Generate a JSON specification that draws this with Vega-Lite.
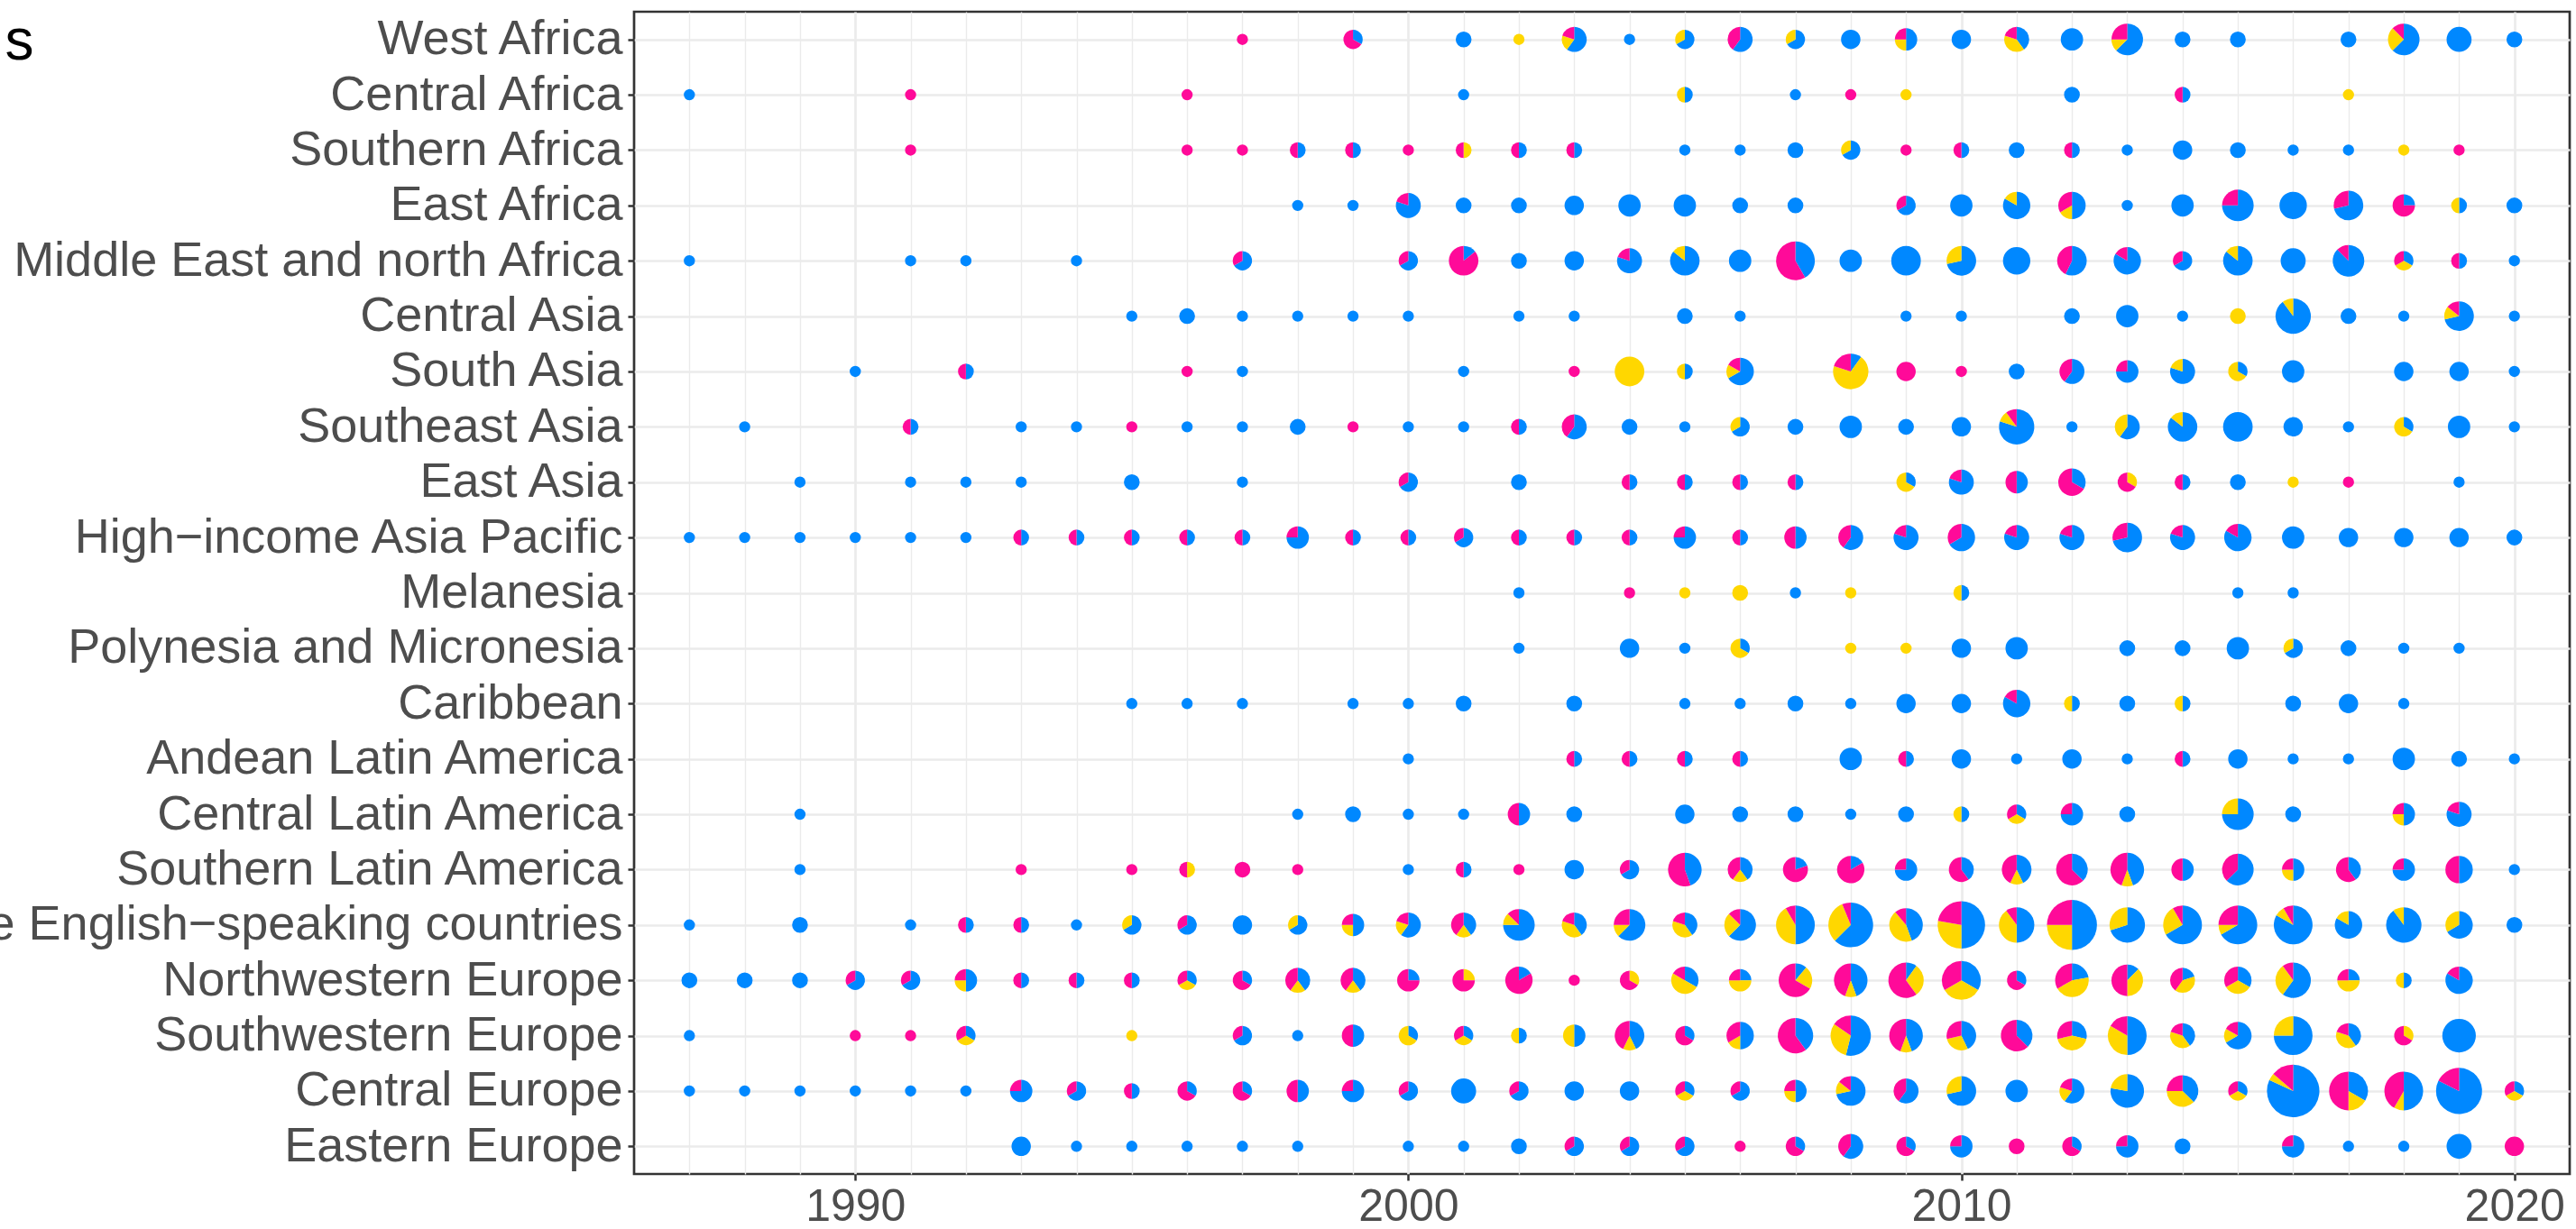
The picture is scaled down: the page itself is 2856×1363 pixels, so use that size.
{
"$schema": "https://vega.github.io/schema/vega-lite/v6.json",
"width": 2146, "height": 1289,
"autosize": {"type": "none"},
"padding": {"left": 703, "top": 13, "right": 7, "bottom": 61},
"background": "white",
"config": {"view": {"stroke": "#333333", "strokeWidth": 2.7}, "font": "Liberation Sans"},
"data": {"values": [
{"r":"West Africa","t":1997,"p":1},{"r":"West Africa","t":1999,"b":1,"p":2},{"r":"West Africa","t":2001,"b":2},{"r":"West Africa","t":2002,"g":1},{"r":"West Africa","t":2003,"b":3,"g":1,"p":1},{"r":"West Africa","t":2004,"b":1},{"r":"West Africa","t":2005,"b":2,"g":1},{"r":"West Africa","t":2006,"b":3,"p":2},{"r":"West Africa","t":2007,"b":2,"g":1},{"r":"West Africa","t":2008,"b":3},{"r":"West Africa","t":2009,"b":2,"g":1,"p":1},{"r":"West Africa","t":2010,"b":3},{"r":"West Africa","t":2011,"b":2,"g":2,"p":1},{"r":"West Africa","t":2012,"b":4},{"r":"West Africa","t":2013,"b":5,"g":1,"p":2},{"r":"West Africa","t":2014,"b":2},{"r":"West Africa","t":2015,"b":2},{"r":"West Africa","t":2017,"b":2},{"r":"West Africa","t":2018,"b":5,"g":2,"p":1},{"r":"West Africa","t":2019,"b":5},{"r":"West Africa","t":2020,"b":2},
{"r":"Central Africa","t":1987,"b":1},{"r":"Central Africa","t":1991,"p":1},{"r":"Central Africa","t":1996,"p":1},{"r":"Central Africa","t":2001,"b":1},{"r":"Central Africa","t":2005,"b":1,"g":1},{"r":"Central Africa","t":2007,"b":1},{"r":"Central Africa","t":2008,"p":1},{"r":"Central Africa","t":2009,"g":1},{"r":"Central Africa","t":2012,"b":2},{"r":"Central Africa","t":2014,"b":1,"p":1},{"r":"Central Africa","t":2017,"g":1},
{"r":"Southern Africa","t":1991,"p":1},{"r":"Southern Africa","t":1996,"p":1},{"r":"Southern Africa","t":1997,"p":1},{"r":"Southern Africa","t":1998,"b":1,"p":1},{"r":"Southern Africa","t":1999,"b":1,"p":1},{"r":"Southern Africa","t":2000,"p":1},{"r":"Southern Africa","t":2001,"g":1,"p":1},{"r":"Southern Africa","t":2002,"b":1,"p":1},{"r":"Southern Africa","t":2003,"b":1,"p":1},{"r":"Southern Africa","t":2005,"b":1},{"r":"Southern Africa","t":2006,"b":1},{"r":"Southern Africa","t":2007,"b":2},{"r":"Southern Africa","t":2008,"b":2,"g":1},{"r":"Southern Africa","t":2009,"p":1},{"r":"Southern Africa","t":2010,"b":1,"p":1},{"r":"Southern Africa","t":2011,"b":2},{"r":"Southern Africa","t":2012,"b":1,"p":1},{"r":"Southern Africa","t":2013,"b":1},{"r":"Southern Africa","t":2014,"b":3},{"r":"Southern Africa","t":2015,"b":2},{"r":"Southern Africa","t":2016,"b":1},{"r":"Southern Africa","t":2017,"b":1},{"r":"Southern Africa","t":2018,"g":1},{"r":"Southern Africa","t":2019,"p":1},
{"r":"East Africa","t":1998,"b":1},{"r":"East Africa","t":1999,"b":1},{"r":"East Africa","t":2000,"b":4,"p":1},{"r":"East Africa","t":2001,"b":2},{"r":"East Africa","t":2002,"b":2},{"r":"East Africa","t":2003,"b":3},{"r":"East Africa","t":2004,"b":4},{"r":"East Africa","t":2005,"b":4},{"r":"East Africa","t":2006,"b":2},{"r":"East Africa","t":2007,"b":2},{"r":"East Africa","t":2009,"b":2,"p":1},{"r":"East Africa","t":2010,"b":4},{"r":"East Africa","t":2011,"b":5,"g":1},{"r":"East Africa","t":2012,"b":3,"g":1,"p":2},{"r":"East Africa","t":2013,"b":1},{"r":"East Africa","t":2014,"b":4},{"r":"East Africa","t":2015,"b":6,"p":2},{"r":"East Africa","t":2016,"b":6},{"r":"East Africa","t":2017,"b":5,"p":2},{"r":"East Africa","t":2018,"b":1,"p":3},{"r":"East Africa","t":2019,"b":1,"g":1},{"r":"East Africa","t":2020,"b":2},
{"r":"Middle East and north Africa","t":1987,"b":1},{"r":"Middle East and north Africa","t":1991,"b":1},{"r":"Middle East and north Africa","t":1992,"b":1},{"r":"Middle East and north Africa","t":1994,"b":1},{"r":"Middle East and north Africa","t":1997,"b":2,"p":1},{"r":"Middle East and north Africa","t":2000,"b":2,"p":1},{"r":"Middle East and north Africa","t":2001,"b":1,"p":6},{"r":"Middle East and north Africa","t":2002,"b":2},{"r":"Middle East and north Africa","t":2003,"b":3},{"r":"Middle East and north Africa","t":2004,"b":4,"p":1},{"r":"Middle East and north Africa","t":2005,"b":6,"g":1},{"r":"Middle East and north Africa","t":2006,"b":4},{"r":"Middle East and north Africa","t":2007,"b":5,"p":7},{"r":"Middle East and north Africa","t":2008,"b":4},{"r":"Middle East and north Africa","t":2009,"b":7},{"r":"Middle East and north Africa","t":2010,"b":5,"g":2},{"r":"Middle East and north Africa","t":2011,"b":6},{"r":"Middle East and north Africa","t":2012,"b":4,"p":3},{"r":"Middle East and north Africa","t":2013,"b":5,"p":1},{"r":"Middle East and north Africa","t":2014,"b":2,"p":1},{"r":"Middle East and north Africa","t":2015,"b":6,"g":1},{"r":"Middle East and north Africa","t":2016,"b":5},{"r":"Middle East and north Africa","t":2017,"b":7,"p":1},{"r":"Middle East and north Africa","t":2018,"b":1,"g":1,"p":1},{"r":"Middle East and north Africa","t":2019,"b":1,"p":1},{"r":"Middle East and north Africa","t":2020,"b":1},
{"r":"Central Asia","t":1995,"b":1},{"r":"Central Asia","t":1996,"b":2},{"r":"Central Asia","t":1997,"b":1},{"r":"Central Asia","t":1998,"b":1},{"r":"Central Asia","t":1999,"b":1},{"r":"Central Asia","t":2000,"b":1},{"r":"Central Asia","t":2002,"b":1},{"r":"Central Asia","t":2003,"b":1},{"r":"Central Asia","t":2005,"b":2},{"r":"Central Asia","t":2006,"b":1},{"r":"Central Asia","t":2009,"b":1},{"r":"Central Asia","t":2010,"b":1},{"r":"Central Asia","t":2012,"b":2},{"r":"Central Asia","t":2013,"b":4},{"r":"Central Asia","t":2014,"b":1},{"r":"Central Asia","t":2015,"g":2},{"r":"Central Asia","t":2016,"b":9,"g":1},{"r":"Central Asia","t":2017,"b":2},{"r":"Central Asia","t":2018,"b":1},{"r":"Central Asia","t":2019,"b":5,"g":1,"p":1},{"r":"Central Asia","t":2020,"b":1},
{"r":"South Asia","t":1990,"b":1},{"r":"South Asia","t":1992,"b":1,"p":1},{"r":"South Asia","t":1996,"p":1},{"r":"South Asia","t":1997,"b":1},{"r":"South Asia","t":2001,"b":1},{"r":"South Asia","t":2003,"p":1},{"r":"South Asia","t":2004,"g":7},{"r":"South Asia","t":2005,"b":1,"g":1},{"r":"South Asia","t":2006,"b":4,"g":1,"p":1},{"r":"South Asia","t":2008,"b":1,"g":7,"p":2},{"r":"South Asia","t":2009,"p":3},{"r":"South Asia","t":2010,"p":1},{"r":"South Asia","t":2011,"b":2},{"r":"South Asia","t":2012,"b":3,"p":2},{"r":"South Asia","t":2013,"b":3,"p":1},{"r":"South Asia","t":2014,"b":4,"g":1},{"r":"South Asia","t":2015,"b":1,"g":2},{"r":"South Asia","t":2016,"b":4},{"r":"South Asia","t":2018,"b":3},{"r":"South Asia","t":2019,"b":3},{"r":"South Asia","t":2020,"b":1},
{"r":"Southeast Asia","t":1988,"b":1},{"r":"Southeast Asia","t":1991,"b":1,"p":1},{"r":"Southeast Asia","t":1993,"b":1},{"r":"Southeast Asia","t":1994,"b":1},{"r":"Southeast Asia","t":1995,"p":1},{"r":"Southeast Asia","t":1996,"b":1},{"r":"Southeast Asia","t":1997,"b":1},{"r":"Southeast Asia","t":1998,"b":2},{"r":"Southeast Asia","t":1999,"p":1},{"r":"Southeast Asia","t":2000,"b":1},{"r":"Southeast Asia","t":2001,"b":1},{"r":"Southeast Asia","t":2002,"b":1,"p":1},{"r":"Southeast Asia","t":2003,"b":3,"p":2},{"r":"Southeast Asia","t":2004,"b":2},{"r":"Southeast Asia","t":2005,"b":1},{"r":"Southeast Asia","t":2006,"b":2,"g":1},{"r":"Southeast Asia","t":2007,"b":2},{"r":"Southeast Asia","t":2008,"b":4},{"r":"Southeast Asia","t":2009,"b":2},{"r":"Southeast Asia","t":2010,"b":3},{"r":"Southeast Asia","t":2011,"b":8,"g":1,"p":1},{"r":"Southeast Asia","t":2012,"b":1},{"r":"Southeast Asia","t":2013,"b":3,"g":2},{"r":"Southeast Asia","t":2014,"b":6,"g":1},{"r":"Southeast Asia","t":2015,"b":7},{"r":"Southeast Asia","t":2016,"b":3},{"r":"Southeast Asia","t":2017,"b":1},{"r":"Southeast Asia","t":2018,"b":1,"g":2},{"r":"Southeast Asia","t":2019,"b":4},{"r":"Southeast Asia","t":2020,"b":1},
{"r":"East Asia","t":1989,"b":1},{"r":"East Asia","t":1991,"b":1},{"r":"East Asia","t":1992,"b":1},{"r":"East Asia","t":1993,"b":1},{"r":"East Asia","t":1995,"b":2},{"r":"East Asia","t":1997,"b":1},{"r":"East Asia","t":2000,"b":2,"p":1},{"r":"East Asia","t":2002,"b":2},{"r":"East Asia","t":2004,"b":1,"p":1},{"r":"East Asia","t":2005,"b":1,"p":1},{"r":"East Asia","t":2006,"b":1,"p":1},{"r":"East Asia","t":2007,"b":1,"p":1},{"r":"East Asia","t":2009,"b":1,"g":2},{"r":"East Asia","t":2010,"b":4,"p":1},{"r":"East Asia","t":2011,"b":2,"p":2},{"r":"East Asia","t":2012,"b":2,"p":4},{"r":"East Asia","t":2013,"g":1,"p":2},{"r":"East Asia","t":2014,"b":1,"p":1},{"r":"East Asia","t":2015,"b":2},{"r":"East Asia","t":2016,"g":1},{"r":"East Asia","t":2017,"p":1},{"r":"East Asia","t":2019,"b":1},
{"r":"High−income Asia Pacific","t":1987,"b":1},{"r":"High−income Asia Pacific","t":1988,"b":1},{"r":"High−income Asia Pacific","t":1989,"b":1},{"r":"High−income Asia Pacific","t":1990,"b":1},{"r":"High−income Asia Pacific","t":1991,"b":1},{"r":"High−income Asia Pacific","t":1992,"b":1},{"r":"High−income Asia Pacific","t":1993,"b":1,"p":1},{"r":"High−income Asia Pacific","t":1994,"b":1,"p":1},{"r":"High−income Asia Pacific","t":1995,"b":1,"p":1},{"r":"High−income Asia Pacific","t":1996,"b":1,"p":1},{"r":"High−income Asia Pacific","t":1997,"b":1,"p":1},{"r":"High−income Asia Pacific","t":1998,"b":3,"p":1},{"r":"High−income Asia Pacific","t":1999,"b":1,"p":1},{"r":"High−income Asia Pacific","t":2000,"b":1,"p":1},{"r":"High−income Asia Pacific","t":2001,"b":2,"p":1},{"r":"High−income Asia Pacific","t":2002,"b":1,"p":1},{"r":"High−income Asia Pacific","t":2003,"b":1,"p":1},{"r":"High−income Asia Pacific","t":2004,"b":1,"p":1},{"r":"High−income Asia Pacific","t":2005,"b":3,"p":1},{"r":"High−income Asia Pacific","t":2006,"b":1,"p":1},{"r":"High−income Asia Pacific","t":2007,"b":2,"p":2},{"r":"High−income Asia Pacific","t":2008,"b":3,"p":2},{"r":"High−income Asia Pacific","t":2009,"b":4,"p":1},{"r":"High−income Asia Pacific","t":2010,"b":4,"p":2},{"r":"High−income Asia Pacific","t":2011,"b":4,"p":1},{"r":"High−income Asia Pacific","t":2012,"b":4,"p":1},{"r":"High−income Asia Pacific","t":2013,"b":5,"p":2},{"r":"High−income Asia Pacific","t":2014,"b":4,"p":1},{"r":"High−income Asia Pacific","t":2015,"b":5,"p":1},{"r":"High−income Asia Pacific","t":2016,"b":4},{"r":"High−income Asia Pacific","t":2017,"b":3},{"r":"High−income Asia Pacific","t":2018,"b":3},{"r":"High−income Asia Pacific","t":2019,"b":3},{"r":"High−income Asia Pacific","t":2020,"b":2},
{"r":"Melanesia","t":2002,"b":1},{"r":"Melanesia","t":2004,"p":1},{"r":"Melanesia","t":2005,"g":1},{"r":"Melanesia","t":2006,"g":2},{"r":"Melanesia","t":2007,"b":1},{"r":"Melanesia","t":2008,"g":1},{"r":"Melanesia","t":2010,"b":1,"g":1},{"r":"Melanesia","t":2015,"b":1},{"r":"Melanesia","t":2016,"b":1},
{"r":"Polynesia and Micronesia","t":2002,"b":1},{"r":"Polynesia and Micronesia","t":2004,"b":3},{"r":"Polynesia and Micronesia","t":2005,"b":1},{"r":"Polynesia and Micronesia","t":2006,"b":1,"g":2},{"r":"Polynesia and Micronesia","t":2008,"g":1},{"r":"Polynesia and Micronesia","t":2009,"g":1},{"r":"Polynesia and Micronesia","t":2010,"b":3},{"r":"Polynesia and Micronesia","t":2011,"b":4},{"r":"Polynesia and Micronesia","t":2013,"b":2},{"r":"Polynesia and Micronesia","t":2014,"b":2},{"r":"Polynesia and Micronesia","t":2015,"b":4},{"r":"Polynesia and Micronesia","t":2016,"b":2,"g":1},{"r":"Polynesia and Micronesia","t":2017,"b":2},{"r":"Polynesia and Micronesia","t":2018,"b":1},{"r":"Polynesia and Micronesia","t":2019,"b":1},
{"r":"Caribbean","t":1995,"b":1},{"r":"Caribbean","t":1996,"b":1},{"r":"Caribbean","t":1997,"b":1},{"r":"Caribbean","t":1999,"b":1},{"r":"Caribbean","t":2000,"b":1},{"r":"Caribbean","t":2001,"b":2},{"r":"Caribbean","t":2003,"b":2},{"r":"Caribbean","t":2005,"b":1},{"r":"Caribbean","t":2006,"b":1},{"r":"Caribbean","t":2007,"b":2},{"r":"Caribbean","t":2008,"b":1},{"r":"Caribbean","t":2009,"b":3},{"r":"Caribbean","t":2010,"b":3},{"r":"Caribbean","t":2011,"b":5,"p":1},{"r":"Caribbean","t":2012,"b":1,"g":1},{"r":"Caribbean","t":2013,"b":2},{"r":"Caribbean","t":2014,"b":1,"g":1},{"r":"Caribbean","t":2016,"b":2},{"r":"Caribbean","t":2017,"b":3},{"r":"Caribbean","t":2018,"b":1},
{"r":"Andean Latin America","t":2000,"b":1},{"r":"Andean Latin America","t":2003,"b":1,"p":1},{"r":"Andean Latin America","t":2004,"b":1,"p":1},{"r":"Andean Latin America","t":2005,"b":1,"p":1},{"r":"Andean Latin America","t":2006,"b":1,"p":1},{"r":"Andean Latin America","t":2008,"b":4},{"r":"Andean Latin America","t":2009,"b":1,"p":1},{"r":"Andean Latin America","t":2010,"b":3},{"r":"Andean Latin America","t":2011,"b":1},{"r":"Andean Latin America","t":2012,"b":3},{"r":"Andean Latin America","t":2013,"b":1},{"r":"Andean Latin America","t":2014,"b":1,"p":1},{"r":"Andean Latin America","t":2015,"b":3},{"r":"Andean Latin America","t":2016,"b":1},{"r":"Andean Latin America","t":2017,"b":1},{"r":"Andean Latin America","t":2018,"b":4},{"r":"Andean Latin America","t":2019,"b":2},{"r":"Andean Latin America","t":2020,"b":1},
{"r":"Central Latin America","t":1989,"b":1},{"r":"Central Latin America","t":1998,"b":1},{"r":"Central Latin America","t":1999,"b":2},{"r":"Central Latin America","t":2000,"b":1},{"r":"Central Latin America","t":2001,"b":1},{"r":"Central Latin America","t":2002,"b":2,"p":2},{"r":"Central Latin America","t":2003,"b":2},{"r":"Central Latin America","t":2005,"b":3},{"r":"Central Latin America","t":2006,"b":2},{"r":"Central Latin America","t":2007,"b":2},{"r":"Central Latin America","t":2008,"b":1},{"r":"Central Latin America","t":2009,"b":2},{"r":"Central Latin America","t":2010,"b":1,"g":1},{"r":"Central Latin America","t":2011,"b":1,"g":1,"p":1},{"r":"Central Latin America","t":2012,"b":3,"p":1},{"r":"Central Latin America","t":2013,"b":2},{"r":"Central Latin America","t":2015,"b":6,"g":2},{"r":"Central Latin America","t":2016,"b":2},{"r":"Central Latin America","t":2018,"b":2,"g":1,"p":1},{"r":"Central Latin America","t":2019,"b":4,"p":1},
{"r":"Southern Latin America","t":1989,"b":1},{"r":"Southern Latin America","t":1993,"p":1},{"r":"Southern Latin America","t":1995,"p":1},{"r":"Southern Latin America","t":1996,"g":1,"p":1},{"r":"Southern Latin America","t":1997,"p":2},{"r":"Southern Latin America","t":1998,"p":1},{"r":"Southern Latin America","t":2000,"b":1},{"r":"Southern Latin America","t":2001,"b":1,"p":1},{"r":"Southern Latin America","t":2002,"p":1},{"r":"Southern Latin America","t":2003,"b":3},{"r":"Southern Latin America","t":2004,"b":2,"p":1},{"r":"Southern Latin America","t":2005,"b":4,"p":5},{"r":"Southern Latin America","t":2006,"b":2,"g":1,"p":2},{"r":"Southern Latin America","t":2007,"b":1,"p":4},{"r":"Southern Latin America","t":2008,"b":1,"p":5},{"r":"Southern Latin America","t":2009,"b":3,"p":1},{"r":"Southern Latin America","t":2010,"b":2,"p":3},{"r":"Southern Latin America","t":2011,"b":3,"g":1,"p":3},{"r":"Southern Latin America","t":2012,"b":3,"p":5},{"r":"Southern Latin America","t":2013,"b":4,"g":1,"p":4},{"r":"Southern Latin America","t":2014,"b":2,"p":2},{"r":"Southern Latin America","t":2015,"b":5,"p":3},{"r":"Southern Latin America","t":2016,"b":2,"g":1,"p":1},{"r":"Southern Latin America","t":2017,"b":2,"p":3},{"r":"Southern Latin America","t":2018,"b":3,"p":1},{"r":"Southern Latin America","t":2019,"b":3,"p":3},{"r":"Southern Latin America","t":2020,"b":1},
{"r":"High−income English−speaking countries","t":1987,"b":1},{"r":"High−income English−speaking countries","t":1989,"b":2},{"r":"High−income English−speaking countries","t":1991,"b":1},{"r":"High−income English−speaking countries","t":1992,"b":1,"p":1},{"r":"High−income English−speaking countries","t":1993,"b":1,"p":1},{"r":"High−income English−speaking countries","t":1994,"b":1},{"r":"High−income English−speaking countries","t":1995,"b":2,"g":1},{"r":"High−income English−speaking countries","t":1996,"b":2,"p":1},{"r":"High−income English−speaking countries","t":1997,"b":3},{"r":"High−income English−speaking countries","t":1998,"b":2,"g":1},{"r":"High−income English−speaking countries","t":1999,"b":2,"g":1,"p":1},{"r":"High−income English−speaking countries","t":2000,"b":3,"g":1,"p":1},{"r":"High−income English−speaking countries","t":2001,"b":2,"g":1,"p":2},{"r":"High−income English−speaking countries","t":2002,"b":6,"g":1,"p":1},{"r":"High−income English−speaking countries","t":2003,"b":2,"g":2,"p":1},{"r":"High−income English−speaking countries","t":2004,"b":5,"g":1,"p":2},{"r":"High−income English−speaking countries","t":2005,"b":2,"g":2,"p":1},{"r":"High−income English−speaking countries","t":2006,"b":5,"g":2,"p":1},{"r":"High−income English−speaking countries","t":2007,"b":6,"g":5,"p":1},{"r":"High−income English−speaking countries","t":2008,"b":10,"g":5,"p":1},{"r":"High−income English−speaking countries","t":2009,"b":4,"g":4,"p":1},{"r":"High−income English−speaking countries","t":2010,"b":9,"g":5,"p":4},{"r":"High−income English−speaking countries","t":2011,"b":5,"g":4,"p":1},{"r":"High−income English−speaking countries","t":2012,"b":10,"g":5,"p":5},{"r":"High−income English−speaking countries","t":2013,"b":7,"g":3},{"r":"High−income English−speaking countries","t":2014,"b":8,"g":3,"p":1},{"r":"High−income English−speaking countries","t":2015,"b":8,"g":1,"p":3},{"r":"High−income English−speaking countries","t":2016,"b":10,"g":1,"p":1},{"r":"High−income English−speaking countries","t":2017,"b":5,"g":1},{"r":"High−income English−speaking countries","t":2018,"b":9,"g":1},{"r":"High−income English−speaking countries","t":2019,"b":4,"g":2},{"r":"High−income English−speaking countries","t":2020,"b":2},
{"r":"Northwestern Europe","t":1987,"b":2},{"r":"Northwestern Europe","t":1988,"b":2},{"r":"Northwestern Europe","t":1989,"b":2},{"r":"Northwestern Europe","t":1990,"b":2,"p":1},{"r":"Northwestern Europe","t":1991,"b":2,"p":1},{"r":"Northwestern Europe","t":1992,"b":2,"g":1,"p":1},{"r":"Northwestern Europe","t":1993,"b":1,"p":1},{"r":"Northwestern Europe","t":1994,"b":1,"p":1},{"r":"Northwestern Europe","t":1995,"b":1,"p":1},{"r":"Northwestern Europe","t":1996,"b":1,"g":1,"p":1},{"r":"Northwestern Europe","t":1997,"b":1,"p":2},{"r":"Northwestern Europe","t":1998,"b":2,"g":1,"p":2},{"r":"Northwestern Europe","t":1999,"b":2,"g":1,"p":2},{"r":"Northwestern Europe","t":2000,"b":1,"p":3},{"r":"Northwestern Europe","t":2001,"g":1,"p":3},{"r":"Northwestern Europe","t":2002,"b":1,"p":5},{"r":"Northwestern Europe","t":2003,"p":1},{"r":"Northwestern Europe","t":2004,"g":1,"p":2},{"r":"Northwestern Europe","t":2005,"b":2,"g":3,"p":1},{"r":"Northwestern Europe","t":2006,"b":1,"g":2,"p":1},{"r":"Northwestern Europe","t":2007,"b":1,"g":2,"p":6},{"r":"Northwestern Europe","t":2008,"b":4,"g":1,"p":4},{"r":"Northwestern Europe","t":2009,"b":1,"g":3,"p":6},{"r":"Northwestern Europe","t":2010,"b":4,"g":4,"p":4},{"r":"Northwestern Europe","t":2011,"b":1,"p":2},{"r":"Northwestern Europe","t":2012,"b":2,"g":4,"p":3},{"r":"Northwestern Europe","t":2013,"b":1,"g":3,"p":4},{"r":"Northwestern Europe","t":2014,"b":1,"g":2,"p":2},{"r":"Northwestern Europe","t":2015,"b":2,"g":2,"p":2},{"r":"Northwestern Europe","t":2016,"b":6,"g":3,"p":1},{"r":"Northwestern Europe","t":2017,"b":1,"g":2,"p":1},{"r":"Northwestern Europe","t":2018,"b":1,"g":1},{"r":"Northwestern Europe","t":2019,"b":5,"p":1},
{"r":"Southwestern Europe","t":1987,"b":1},{"r":"Southwestern Europe","t":1990,"p":1},{"r":"Southwestern Europe","t":1991,"p":1},{"r":"Southwestern Europe","t":1992,"b":1,"g":1,"p":1},{"r":"Southwestern Europe","t":1995,"g":1},{"r":"Southwestern Europe","t":1997,"b":2,"p":1},{"r":"Southwestern Europe","t":1998,"b":1},{"r":"Southwestern Europe","t":1999,"b":2,"p":2},{"r":"Southwestern Europe","t":2000,"b":1,"g":2},{"r":"Southwestern Europe","t":2001,"b":1,"g":1,"p":1},{"r":"Southwestern Europe","t":2002,"b":1,"g":1},{"r":"Southwestern Europe","t":2003,"b":2,"g":2},{"r":"Southwestern Europe","t":2004,"b":3,"g":1,"p":3},{"r":"Southwestern Europe","t":2005,"b":1,"p":2},{"r":"Southwestern Europe","t":2006,"b":3,"g":1,"p":2},{"r":"Southwestern Europe","t":2007,"b":4,"p":6},{"r":"Southwestern Europe","t":2008,"b":7,"g":4,"p":2},{"r":"Southwestern Europe","t":2009,"b":4,"g":1,"p":4},{"r":"Southwestern Europe","t":2010,"b":3,"g":2,"p":2},{"r":"Southwestern Europe","t":2011,"b":3,"p":5},{"r":"Southwestern Europe","t":2012,"b":2,"g":3,"p":2},{"r":"Southwestern Europe","t":2013,"b":6,"g":4,"p":2},{"r":"Southwestern Europe","t":2014,"b":2,"g":2,"p":1},{"r":"Southwestern Europe","t":2015,"b":4,"g":1,"p":1},{"r":"Southwestern Europe","t":2016,"b":9,"g":3},{"r":"Southwestern Europe","t":2017,"b":2,"g":2,"p":1},{"r":"Southwestern Europe","t":2018,"g":1,"p":2},{"r":"Southwestern Europe","t":2019,"b":9},
{"r":"Central Europe","t":1987,"b":1},{"r":"Central Europe","t":1988,"b":1},{"r":"Central Europe","t":1989,"b":1},{"r":"Central Europe","t":1990,"b":1},{"r":"Central Europe","t":1991,"b":1},{"r":"Central Europe","t":1992,"b":1},{"r":"Central Europe","t":1993,"b":3,"p":1},{"r":"Central Europe","t":1994,"b":2,"p":1},{"r":"Central Europe","t":1995,"b":1,"p":1},{"r":"Central Europe","t":1996,"b":1,"p":2},{"r":"Central Europe","t":1997,"b":1,"p":2},{"r":"Central Europe","t":1998,"b":2,"p":2},{"r":"Central Europe","t":1999,"b":3,"p":1},{"r":"Central Europe","t":2000,"b":2,"p":1},{"r":"Central Europe","t":2001,"b":5},{"r":"Central Europe","t":2002,"b":2,"p":1},{"r":"Central Europe","t":2003,"b":3},{"r":"Central Europe","t":2004,"b":3},{"r":"Central Europe","t":2005,"b":1,"g":1,"p":1},{"r":"Central Europe","t":2006,"b":2,"p":1},{"r":"Central Europe","t":2007,"b":2,"g":1,"p":1},{"r":"Central Europe","t":2008,"b":5,"g":1,"p":1},{"r":"Central Europe","t":2009,"b":3,"p":2},{"r":"Central Europe","t":2010,"b":5,"g":2},{"r":"Central Europe","t":2011,"b":4},{"r":"Central Europe","t":2012,"b":3,"g":1,"p":1},{"r":"Central Europe","t":2013,"b":7,"g":2},{"r":"Central Europe","t":2014,"b":3,"g":3,"p":2},{"r":"Central Europe","t":2015,"b":1,"g":1,"p":1},{"r":"Central Europe","t":2016,"b":18,"g":1,"p":3},{"r":"Central Europe","t":2017,"b":4,"g":2,"p":6},{"r":"Central Europe","t":2018,"b":6,"g":1,"p":5},{"r":"Central Europe","t":2019,"b":14,"p":3},{"r":"Central Europe","t":2020,"b":1,"g":1,"p":1},
{"r":"Eastern Europe","t":1993,"b":3},{"r":"Eastern Europe","t":1994,"b":1},{"r":"Eastern Europe","t":1995,"b":1},{"r":"Eastern Europe","t":1996,"b":1},{"r":"Eastern Europe","t":1997,"b":1},{"r":"Eastern Europe","t":1998,"b":1},{"r":"Eastern Europe","t":2000,"b":1},{"r":"Eastern Europe","t":2001,"b":1},{"r":"Eastern Europe","t":2002,"b":2},{"r":"Eastern Europe","t":2003,"b":2,"p":1},{"r":"Eastern Europe","t":2004,"b":2,"p":1},{"r":"Eastern Europe","t":2005,"b":2,"p":1},{"r":"Eastern Europe","t":2006,"p":1},{"r":"Eastern Europe","t":2007,"b":1,"p":2},{"r":"Eastern Europe","t":2008,"b":3,"p":2},{"r":"Eastern Europe","t":2009,"b":1,"p":2},{"r":"Eastern Europe","t":2010,"b":3,"p":1},{"r":"Eastern Europe","t":2011,"p":2},{"r":"Eastern Europe","t":2012,"b":1,"p":2},{"r":"Eastern Europe","t":2013,"b":3,"p":1},{"r":"Eastern Europe","t":2014,"b":2},{"r":"Eastern Europe","t":2016,"b":3,"p":1},{"r":"Eastern Europe","t":2017,"b":1},{"r":"Eastern Europe","t":2018,"b":1},{"r":"Eastern Europe","t":2019,"b":5},{"r":"Eastern Europe","t":2020,"p":3}
]},
"transform": [
{"fold": ["b", "g", "p"], "as": ["k", "c"]},
{"filter": "isValid(datum.c) && datum.c > 0"},
{"joinaggregate": [{"op": "sum", "field": "c", "as": "n"}], "groupby": ["r", "t"]},
{"stack": "c", "groupby": ["r", "t"], "sort": [{"field": "k", "order": "ascending"}], "offset": "normalize", "as": ["s0", "s1"]}
],
"mark": {"type": "arc"},
"encoding": {
"x": {"field": "t", "type": "quantitative", "stack": null, "scale": {"domain": [1986, 2021], "nice": false, "zero": false},
"axis": {"values": [1987,1988,1989,1990,1991,1992,1993,1994,1995,1996,1997,1998,1999,2000,2001,2002,2003,2004,2005,2006,2007,2008,2009,2010,2011,2012,2013,2014,2015,2016,2017,2018,2019,2020], "labelExpr": "datum.value % 10 === 0 ? format(datum.value, 'd') : ''", "title": null, "grid": true, "gridColor": "#EBEBEB", "gridWidth": {"condition": {"test": "datum.value % 10 === 0", "value": 2.7}, "value": 1.4}, "domain": false, "tickSize": 7, "tickColor": "#333333", "tickWidth": 2.5, "tickOpacity": {"condition": {"test": "datum.value % 10 === 0", "value": 1}, "value": 0}, "labelFontSize": 50, "labelColor": "#4D4D4D", "labelFont": "Liberation Sans", "labelPadding": 4, "labelFlush": false, "labelOverlap": false}},
"y": {"field": "r", "type": "nominal", "sort": ["West Africa","Central Africa","Southern Africa","East Africa","Middle East and north Africa","Central Asia","South Asia","Southeast Asia","East Asia","High−income Asia Pacific","Melanesia","Polynesia and Micronesia","Caribbean","Andean Latin America","Central Latin America","Southern Latin America","High−income English−speaking countries","Northwestern Europe","Southwestern Europe","Central Europe","Eastern Europe"],
"axis": {"title": "s", "titleAngle": 0, "titleX": -698, "titleY": 52, "titleAlign": "left", "titleBaseline": "alphabetic", "titleFontSize": 64, "titleFontWeight": "normal", "titleColor": "#000000", "titleFont": "Liberation Sans", "grid": true, "gridColor": "#EBEBEB", "gridWidth": 2.7, "domain": false, "tickSize": 7, "tickColor": "#333333", "tickWidth": 2.5, "labelFontSize": 54, "labelColor": "#4D4D4D", "labelFont": "Liberation Sans", "labelPadding": 6, "labelLimit": 3000}},
"theta": {"field": "s0", "type": "quantitative", "stack": null, "scale": {"domain": [0, 1], "range": [0, 6.283185307]}},
"theta2": {"field": "s1"},
"radius": {"field": "n", "type": "quantitative", "scale": {"type": "sqrt", "domain": [0, 25], "range": [0, 31], "zero": true}, "legend": null},
"color": {"field": "k", "type": "nominal", "scale": {"domain": ["b", "g", "p"], "range": ["#0088FF", "#FFD700", "#FF0A99"]}, "legend": null}
}
}
